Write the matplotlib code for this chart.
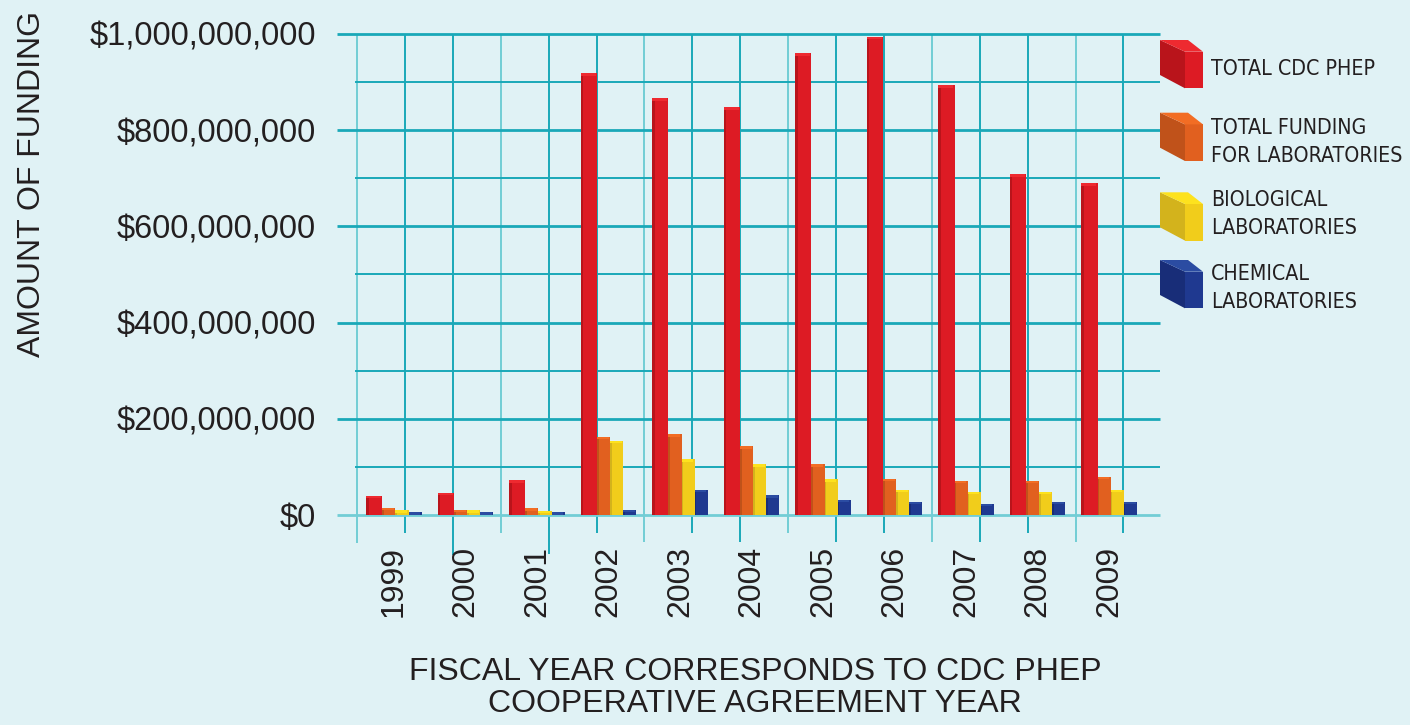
import matplotlib
matplotlib.use("Agg")
import matplotlib.pyplot as plt
from matplotlib import font_manager
from matplotlib.patches import Polygon

# Funding by fiscal year
years = ['1999', '2000', '2001', '2002', '2003', '2004', '2005', '2006', '2007', '2008', '2009']
total_phep = [40e6, 46e6, 72e6, 918e6, 866e6, 848e6, 960e6, 994e6, 893e6, 708e6, 690e6]
total_labs = [15e6, 11e6, 14e6, 163e6, 168e6, 143e6, 105e6, 75e6, 71e6, 71e6, 79e6]
bio_labs = [10e6, 10e6, 9e6, 154e6, 116e6, 105e6, 74e6, 52e6, 48e6, 48e6, 52e6]
chem_labs = [6e6, 6e6, 6e6, 11e6, 52e6, 41e6, 31e6, 27e6, 23e6, 27e6, 27e6]

series_names = ['TOTAL CDC PHEP', 'TOTAL FUNDING\nFOR LABORATORIES',
                'BIOLOGICAL\nLABORATORIES', 'CHEMICAL\nLABORATORIES']
y_ticks = [0, 200e6, 400e6, 600e6, 800e6, 1000e6]
y_ticklabels = ['$0', '$200,000,000', '$400,000,000', '$600,000,000',
                '$800,000,000', '$1,000,000,000']

# colours: front, dark side, light top
colors = [('#dd1b24', '#b9141b', '#ee2a30'),
          ('#e1601f', '#c0521a', '#f26d24'),
          ('#f1cd1b', '#d3b31c', '#fde21e'),
          ('#1f3990', '#182d78', '#2b4ca2')]

bg = '#e0f2f5'
grid_dark = '#1aa8b8'
grid_light = '#72cdd5'
text_col = '#231f20'
font = ['Liberation Sans', 'DejaVu Sans']

# a condensed face if there is one, the legend text is narrow in the original
narrow_kw = None
for f in font_manager.fontManager.ttflist:
    if f.name in ('Liberation Sans Narrow', 'DejaVu Sans') and f.stretch in ('condensed', 'semi-condensed', 500):
        if f.weight in ('normal', 400, 'regular', 'book') and f.style == 'normal':
            narrow_kw = dict(fontfamily=f.name, fontstretch=f.stretch)
            break
    if f.name == 'Liberation Sans Narrow':
        narrow_kw = dict(fontfamily='Liberation Sans Narrow')
        break
if narrow_kw is None:
    narrow_kw = dict(fontfamily=font)
    legend_size = 13.5
else:
    legend_size = 15.3

fig = plt.figure(figsize=(14.1, 7.25), dpi=100, facecolor=bg)
ax = fig.add_axes([337 / 1410, 1 - 540 / 725, 823 / 1410, 506 / 725])
ax.set_facecolor(bg)
ax.set_xlim(-0.797, 10.713)
ax.set_ylim(-52e6, 1000e6)
for s in ax.spines.values():
    s.set_visible(False)

# grid: perspective-ish walls of the original
px = 11.51 / 823  # data units per pixel horizontally
x0 = -0.797
vx_px = [357 + 47.9 * k for k in range(17)]
v_bottom = [543, 533, 555, 533, 554, 533, 542, 533, 542, 533, 542, 533, 542, 542, 533, 542, 533]
ypx = 481 / 1e9
for k, xp in enumerate(vx_px):
    xd = x0 + (xp - 337) * px
    yb = -(v_bottom[k] - 515) / ypx
    c = grid_light if k % 3 == 0 else grid_dark
    ax.vlines(xd, yb, 1000e6, color=c, lw=1.4, clip_on=False, zorder=1)

for v in range(0, 1000000001, 100000000):
    if v % 200000000 == 0:
        xs = x0
        lw = 2.0
    else:
        xs = x0 + 18 * px
        lw = 1.4
    c = grid_light if v == 0 else grid_dark
    ax.hlines(v, xs, 10.713, color=c, lw=lw, clip_on=False, zorder=1)

# bars
series = [total_phep, total_labs, bio_labs, chem_labs]
widths = [0.224, 0.182, 0.182, 0.182]
lefts = [-0.385, -0.161, 0.021, 0.203]
xs = list(range(len(years)))
cap = 5e6
for vals, w, l, (front, side, top) in zip(series, widths, lefts, colors):
    pos = [x + l for x in xs]
    ax.bar(pos, vals, width=w, align='edge', color=front, zorder=3)
    ax.bar(pos, vals, width=w * 0.14, align='edge', color=side, zorder=4)
    ax.bar(pos, [cap] * len(vals), bottom=[v - cap for v in vals], width=w * 0.92,
           align='edge', color=top, zorder=4)

# ticks
ax.set_yticks(y_ticks)
ax.set_yticklabels(y_ticklabels, fontfamily=font, fontsize=23.5, color=text_col)
ax.set_xticks(xs)
ax.set_xticklabels(years, rotation=90, fontfamily=font, fontsize=23, color=text_col)
ax.tick_params(axis='y', length=0, pad=15)
ax.tick_params(axis='x', length=0, pad=4)

fig.text(32 / 1410, 1 - 184 / 725, 'AMOUNT OF FUNDING', rotation=90, ha='center', va='center',
         fontfamily=font, fontsize=23, color=text_col)
fig.text(755 / 1410, 1 - 688 / 725, 'FISCAL YEAR CORRESPONDS TO CDC PHEP\nCOOPERATIVE AGREEMENT YEAR',
         ha='center', va='center', fontfamily=font, fontsize=23, color=text_col, linespacing=1.1)

# legend with little cubes
cube_top = [40, 112.7, 192.3, 260]
label_y = [69, 142, 214, 288]


def pt(x, y):
    return (x / 1410, 1 - y / 725)


for (front, side, top), ty, ly, name in zip(colors, cube_top, label_y, series_names):
    left = [pt(1160, ty), pt(1185, ty + 11.7), pt(1185, ty + 48.3), pt(1160, ty + 35)]
    right = [pt(1185, ty + 11.7), pt(1203, ty + 11.7), pt(1203, ty + 48.3), pt(1185, ty + 48.3)]
    cover = [pt(1160, ty), pt(1188, ty), pt(1203, ty + 11.7), pt(1185, ty + 11.7)]
    for poly, c in ((left, side), (right, front), (cover, top)):
        fig.patches.append(Polygon(poly, closed=True, facecolor=c, edgecolor='none',
                                   transform=fig.transFigure, figure=fig))
    fig.text(1211 / 1410, 1 - ly / 725, name, ha='left', va='center', fontsize=legend_size,
             color=text_col, linespacing=1.5, **narrow_kw)

fig.savefig('out.png', dpi=100, facecolor=bg)
